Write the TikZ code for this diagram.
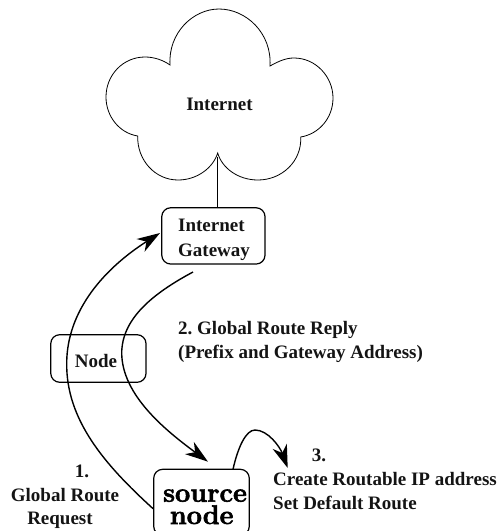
\documentclass[tikz,border=0pt]{standalone}
\usepackage{fontspec}
\newfontfamily\lblfont{Liberation Serif}[BoldFont={Liberation Serif Bold}]
\newfontfamily\srcfont{Latin Modern Roman}[BoldFeatures={FakeBold=2.2}]
\usetikzlibrary{arrows.meta}
\tikzset{
  lbl/.style={font=\lblfont\bfseries\fontsize{19}{22}\selectfont,inner sep=0pt,text=black!92},
  srclbl/.style={anchor=base,inner sep=0pt,font=\srcfont\bfseries\fontsize{27}{29}\selectfont},
  boxnode/.style={draw,line width=1.2pt,rounded corners=9pt,inner sep=0pt},
  flow/.style={line width=1.4pt,-{Stealth[length=23pt,width=15pt,inset=7pt]}},
  cloudline/.style={line width=0.8pt}
}
\frenchspacing
\begin{document}
\begin{tikzpicture}[x=1pt,y=-1pt]
\useasboundingbox (0,0) rectangle (499,531);
\clip (0,0) rectangle (499,531);
\draw[cloudline] (170,65) .. controls (168,33) and (193,9) .. (219,9)
  .. controls (246,9) and (272,33) .. (270,66)
  .. controls (279,61) and (286,58) .. (294,58)
  .. controls (316,58) and (333,77) .. (333,98)
  .. controls (333,118) and (319,134) .. (300.7,137)
  .. controls (302,161) and (282,180) .. (258,180)
  .. controls (238,180) and (222,168) .. (217.7,153)
  .. controls (213,168) and (197,180) .. (178,180)
  .. controls (155,180) and (137,160) .. (137.7,136)
  .. controls (119,133) and (106,116) .. (106,97)
  .. controls (106,75) and (123,57) .. (145,57)
  .. controls (154,57) and (163,60) .. (170,65) -- cycle;
\node[lbl,anchor=center] (inet) at (219.5,104) {Internet};
\node[boxnode,minimum width=103.3pt,minimum height=56.3pt] (gw) at (213.4,235.9) {};
\node[boxnode,minimum width=95.3pt,minimum height=47.6pt] (nd) at (98.4,358.5) {};
\node[boxnode,minimum width=95.6pt,minimum height=66pt] (src) at (201.5,502.3) {};
\coordinate (cusp) at (217.7,157);
\draw[cloudline] (cusp) -- (cusp |- gw.north);
\node[lbl,anchor=base west] (gw1) at (178,231.7) {Internet};
\node[lbl,anchor=base west] (gw2) at (178,256) {Gateway};
\node[lbl,anchor=center] (ndt) at (96,361) {Node};
\node[srclbl] (s1) at (205,501.7) {source};
\node[srclbl] (s2) at (201.7,524) {node};
\node[lbl,anchor=base west] (r1) at (178,334) {2. Global Route Reply};
\node[lbl,anchor=base west] (r2) at (178,358) {(Prefix and Gateway Address)};
\node[lbl,anchor=base] (a1) at (82,477.7) {1.};
\node[lbl,anchor=base] (a2) at (65,501.7) {Global Route};
\node[lbl,anchor=base] (a3) at (60,524) {Request};
\node[lbl,anchor=base] (c1) at (319,461.7) {3.};
\node[lbl,anchor=base west] (c2) at (273,485.7) {Create Routable IP address};
\node[lbl,anchor=base west] (c3) at (273,509) {Set Default Route};
\coordinate (a1s) at (src.west |- 0,508.7);
\coordinate (a1e) at (160,233);
\coordinate (a2s) at (193,272);
\coordinate (a2e) at (208,461.7);
\coordinate (a3s) at (233,469.3);
\coordinate (a3e) at (287.7,468);
\draw[flow] (a1s) .. controls (105,465) and (66,420) .. (66.7,363)
  .. controls (67,310) and (105,268) .. (a1e);
\draw[flow] (a2s) .. controls (150,295) and (122,320) .. (121.7,353)
  .. controls (122,395) and (165,430) .. (a2e);
\draw[flow] (a3s) .. controls (238,447) and (246,430) .. (255,430)
  .. controls (268,430) and (280,447) .. (a3e);
\end{tikzpicture}
\end{document}
